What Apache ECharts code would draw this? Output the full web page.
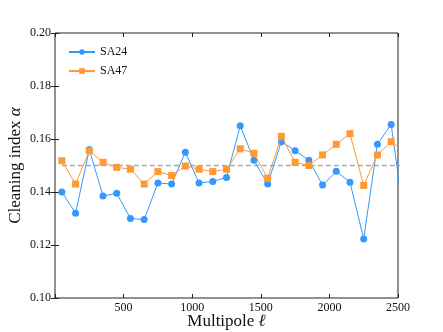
<!DOCTYPE html>
<html>
<head>
<meta charset="utf-8">
<script src="https://cdn.jsdelivr.net/npm/echarts@6/dist/echarts.min.js"></script>
<style>
  html, body { margin: 0; padding: 0; background: #fff; }
  #chart { width: 443px; height: 332px; }
</style>
</head>
<body>
<div id="chart"></div>
<script>
// multipole bins (last one sits past the axis end and gets clipped)
const ells = [50, 150, 250, 350, 450, 550, 650, 750, 850, 950, 1050, 1150, 1250,
  1350, 1450, 1550, 1650, 1750, 1850, 1950, 2050, 2150, 2250, 2350, 2450, 2550]
const sa24 = [0.140, 0.132, 0.156, 0.1385, 0.1395, 0.130, 0.1296, 0.1434, 0.143, 0.155,
  0.1434, 0.144, 0.1455, 0.165, 0.152, 0.143, 0.159, 0.1556, 0.152, 0.1426,
  0.1478, 0.1437, 0.1223, 0.158, 0.1655, 0.128]
const sa47 = [0.1518, 0.143, 0.1556, 0.1512, 0.1493, 0.1486, 0.143, 0.1477, 0.1462, 0.1498,
  0.1486, 0.1477, 0.1486, 0.1563, 0.1546, 0.1452, 0.161, 0.1512, 0.150, 0.154,
  0.158, 0.162, 0.1425, 0.154, 0.159, 0.155]
const refLevel = 0.15
const yTicks = [0.10, 0.12, 0.14, 0.16, 0.18, 0.20]

const font = 'Liberation Serif'
const blue = '#3399ff'
const orange = '#ff9933'

const chart = echarts.init(document.getElementById('chart'))

const xBase = {
  type: 'value',
  min: 0,
  max: 2500,
  interval: 500,
  splitLine: { show: false },
  axisLine: { show: false },
  axisTick: { inside: true, length: 4, lineStyle: { color: '#222' } },
}
const yBase = {
  type: 'value',
  min: 0.10,
  max: 0.20,
  interval: 0.02,
  splitLine: { show: false },
  axisLine: { show: false },
  axisTick: { inside: true, length: 4, lineStyle: { color: '#222' } },
}

chart.setOption({
  animation: false,
  grid: {
    left: 55, right: 45, top: 33, bottom: 34,
    outerBoundsMode: 'none',
    show: true, borderColor: '#222', borderWidth: 1,
  },
  legend: {
    orient: 'vertical',
    left: 63,
    top: 41,
    itemWidth: 26,
    itemHeight: 7,
    itemGap: 7,
    data: ['SA24', 'SA47'],
    textStyle: { fontFamily: font, fontSize: 12, color: '#111' },
  },
  xAxis: [
    {
      ...xBase,
      position: 'bottom',
      name: '{a|Multipole }{i|ℓ}',
      nameLocation: 'middle',
      nameGap: 15,
      nameMoveOverlap: false,
      nameTextStyle: {
        rich: {
          a: { fontFamily: font, fontSize: 17, color: '#111' },
          i: { fontFamily: font, fontSize: 17, fontStyle: 'italic', color: '#111' },
        },
      },
      axisLabel: {
        fontFamily: font, fontSize: 12, color: '#111', margin: 4,
        formatter: v => (v === 0 ? '' : String(v)),
      },
    },
    { ...xBase, position: 'top', axisLabel: { show: false } },
  ],
  yAxis: [
    {
      ...yBase,
      position: 'left',
      name: '{a|Cleaning index }{i|α}',
      nameLocation: 'middle',
      nameGap: 31,
      nameMoveOverlap: false,
      nameTextStyle: {
        rich: {
          a: { fontFamily: font, fontSize: 17, color: '#111' },
          i: { fontFamily: font, fontSize: 17, fontStyle: 'italic', color: '#111' },
        },
      },
      axisLabel: {
        fontFamily: font, fontSize: 12, color: '#111', margin: 4,
        formatter: v => yTicks.includes(Math.round(v * 100) / 100) ? v.toFixed(2) : '',
      },
    },
    { ...yBase, position: 'right', axisLabel: { show: false } },
  ],
  series: [
    {
      name: 'ref',
      type: 'line',
      data: [[ells[0], refLevel], [ells[ells.length - 1], refLevel]],
      symbol: 'none',
      lineStyle: { color: '#aaaaaa', width: 1.5, type: [5, 3] },
      silent: true,
      z: 1,
    },
    {
      name: 'SA24',
      type: 'line',
      data: ells.map((l, i) => [l, sa24[i]]),
      symbol: 'circle',
      symbolSize: 7,
      itemStyle: { color: blue },
      lineStyle: { color: blue, width: 1 },
      z: 2,
    },
    {
      name: 'SA47',
      type: 'line',
      data: ells.map((l, i) => [l, sa47[i]]),
      symbol: 'rect',
      symbolSize: 7,
      itemStyle: { color: orange },
      lineStyle: { color: orange, width: 1 },
      z: 3,
    },
  ],
})
</script>
</body>
</html>
